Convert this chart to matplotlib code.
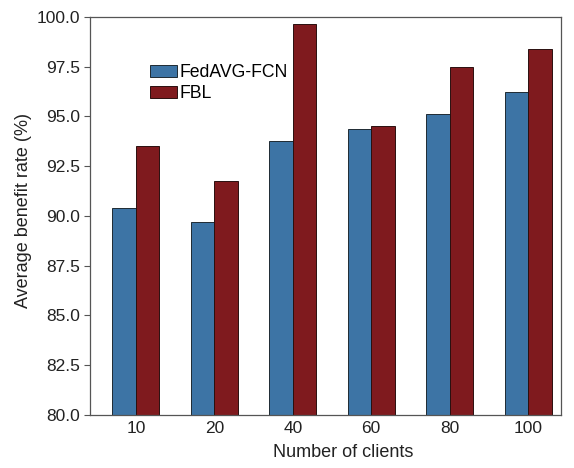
import matplotlib
matplotlib.use("Agg")
import matplotlib.pyplot as plt
import numpy as np

# data
clients = ["10", "20", "40", "60", "80", "100"]
fedavg_fcn = [90.38, 89.68, 93.77, 94.36, 95.14, 96.23]
fbl = [93.52, 91.74, 99.64, 94.54, 97.49, 98.39]
yticks = [80.0, 82.5, 85.0, 87.5, 90.0, 92.5, 95.0, 97.5, 100.0]

plt.rcParams["font.family"] = ["Liberation Sans", "DejaVu Sans"]
plt.rcParams["font.size"] = 12.5

fig = plt.figure(figsize=(5.74, 4.68), dpi=100)
ax = fig.add_axes([90 / 574, 1 - 415 / 468, (561 - 90) / 574, (415 - 17) / 468])

x = np.arange(len(clients))
w = 0.30
ax.bar(x - w / 2, fedavg_fcn, w, color="#3d74a5", edgecolor="#1f2a33", linewidth=0.7,
       label="FedAVG-FCN")
ax.bar(x + w / 2, fbl, w, color="#7f1a1e", edgecolor="#2a1010", linewidth=0.7, label="FBL")

ax.set_ylim(80, 100)
ax.set_xlim(-0.586, 5.42)
ax.set_yticks(yticks)
ax.set_yticklabels([f"{v:.1f}" for v in yticks])
ax.set_xticks(x)
ax.set_xticklabels(clients)
ax.tick_params(axis="x", length=0, pad=4, labelsize=12.5, colors="#222222")
ax.tick_params(axis="y", direction="out", length=4, width=0.8, color="#555555",
               labelsize=12.5, labelcolor="#222222", pad=3)
for s in ax.spines.values():
    s.set_color("#555555")
    s.set_linewidth(0.9)

ax.set_xlabel("Number of clients", fontsize=13, color="#222222")
ax.xaxis.set_label_coords(0.537, -0.072)
ax.set_ylabel("Average benefit rate (%)", fontsize=13, color="#222222")
ax.yaxis.set_label_coords(-0.123, 0.515)

ax.legend(loc="upper left", bbox_to_anchor=(150 / 574, 1 - 64 / 468),
          bbox_transform=fig.transFigure, frameon=False, borderpad=0,
          borderaxespad=0, handlelength=1.55, handleheight=0.65, handletextpad=0.15,
          labelspacing=0.25, fontsize=12.7)

fig.savefig("out.png", dpi=100)
